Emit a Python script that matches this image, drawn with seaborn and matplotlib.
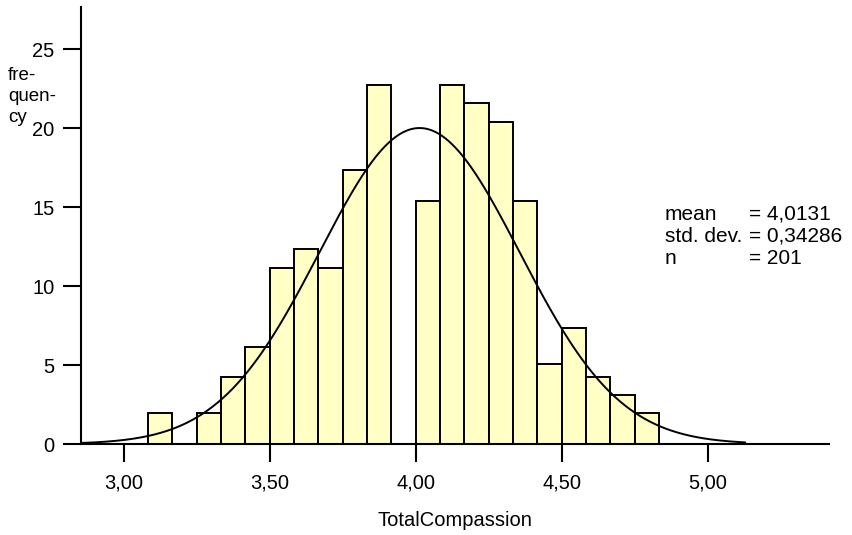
import numpy as np
import pandas as pd
import matplotlib
matplotlib.use("Agg")
import matplotlib.pyplot as plt
import seaborn as sns

# ---- data ----
bin_edges = [3.0 + k / 12 for k in range(1, 23)]  # 3.0833 ... 4.8333, width 1/12
bar_heights = [1.94, 0.0, 1.94, 4.26, 6.16, 11.14, 12.32, 11.14, 17.34, 22.7,
               0.0, 15.38, 22.7, 21.56, 20.40, 15.38, 5.04, 7.34, 4.26, 3.08, 1.94]
x_ticks = [3.0, 3.5, 4.0, 4.5, 5.0]
x_tick_labels = ["3,00", "3,50", "4,00", "4,50", "5,00"]
y_ticks = [0, 5, 10, 15, 20, 25]
y_tick_labels = ["0", "5", "10", "15", "20", "25"]
mean_val = 4.0131
sd_val = 0.34286
n_val = 201
curve_peak = 20.0
curve_range = (2.854, 5.128)
x_label = "TotalCompassion"
y_label_lines = ["fre-", "quen-", "cy"]
stat_names = ["mean", "std. dev.", "n"]
stat_values = ["= 4,0131", "= 0,34286", "= 201"]

sns.set_theme(style="white")
plt.rcParams["font.family"] = ["Liberation Sans", "DejaVu Sans"]

W, H = 852, 535
fig = plt.figure(figsize=(W / 100, H / 100), dpi=100)
ax = fig.add_axes([81 / W, 1 - 444 / H, (829.3 - 81) / W, (444 - 7) / H])

centers = [(a + b) / 2 for a, b in zip(bin_edges[:-1], bin_edges[1:])]
df = pd.DataFrame({"x": centers, "w": bar_heights})
sns.histplot(data=df, x="x", weights="w", bins=bin_edges, ax=ax,
             color="#FFFFC6", alpha=1.0, edgecolor="black", linewidth=1.4,
             zorder=2)

xs = np.linspace(curve_range[0], curve_range[1], 400)
ys = curve_peak * np.exp(-0.5 * ((xs - mean_val) / sd_val) ** 2)
sns.lineplot(x=xs, y=ys, ax=ax, color="black", linewidth=1.4, zorder=3)

ax.set_xlim(2.854, 5.416)
ax.set_ylim(0, 27.66)
ax.set_xticks(x_ticks)
ax.set_xticklabels(x_tick_labels)
ax.set_yticks(y_ticks)
ax.set_yticklabels(y_tick_labels)

for side in ["top", "right"]:
    ax.spines[side].set_visible(False)
for side in ["left", "bottom"]:
    ax.spines[side].set_color("black")
    ax.spines[side].set_linewidth(1.5)

ax.tick_params(axis="both", which="major", length=13, width=1.5,
               color="black", labelsize=14.5, labelcolor="black",
               direction="out", bottom=True, left=True)
ax.tick_params(axis="x", pad=8)
ax.tick_params(axis="y", pad=6)

ax.set_xlabel(x_label, fontsize=14.5, color="black")
ax.xaxis.set_label_coords(0.5, -(521 - 444) / 437)
ax.xaxis.label.set_va("center")
ax.set_ylabel("")

# y-axis title, wrapped over three lines as in the reference
for line, yb in zip(y_label_lines, [80.0, 101.0, 122.0]):
    fig.text(8 / W, 1 - yb / H, line, fontsize=13.5, ha="left",
             va="baseline", color="black")

baselines = [219.5, 242.0, 264.5]
for name, val, yb in zip(stat_names, stat_values, baselines):
    fig.text(665 / W, 1 - yb / H, name, fontsize=15, ha="left",
             va="baseline", color="black")
    fig.text(749 / W, 1 - yb / H, val, fontsize=15, ha="left",
             va="baseline", color="black")

fig.savefig("out.png", dpi=100, facecolor="white")
